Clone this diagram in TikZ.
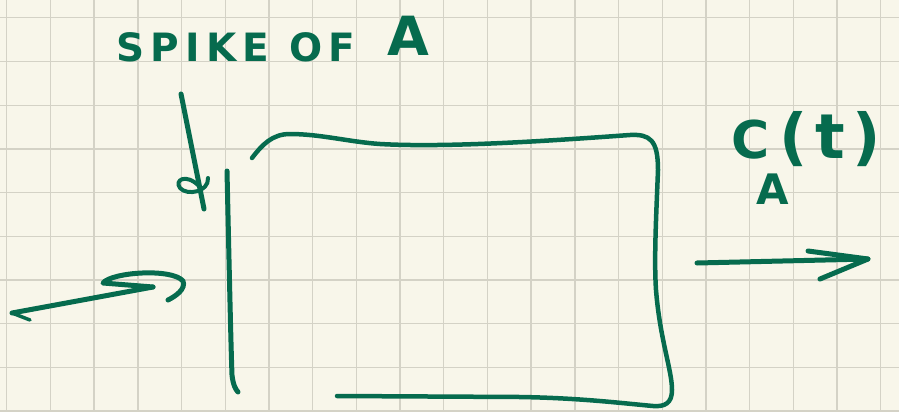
\documentclass[tikz,border=0pt]{standalone}
\usepackage{fontspec}
\setsansfont{DejaVu Sans}
\usetikzlibrary{positioning}
\definecolor{inkgreen}{RGB}{6,107,78}
\definecolor{paper}{RGB}{248,246,234}
\definecolor{gridgray}{RGB}{212,210,198}
\begin{document}
\begin{tikzpicture}[
  x=1pt, y=-1pt,
  ink/.style={draw=inkgreen, line width=5pt, line cap=round, line join=round},
  gridline/.style={draw=gridgray, line width=1.4pt},
  hand/.style={text=inkgreen, font=\sffamily\bfseries, inner sep=0pt},
  lbl/.style={hand, anchor=base west}
]
\useasboundingbox (0,0) rectangle (899,412);
\fill[paper] (0,0) rectangle (899,412);
\def\gs{43.7}
% grid paper
\foreach \gx in {0,...,20} \draw[gridline] ({6.7+\gs*\gx},0) -- ++(0,412);
\foreach \gy in {0,...,9} \draw[gridline] (0,{17.8+\gs*\gy}) -- ++(899,0);
% labels
\node[lbl] (spike) at (116,62) {\fontsize{39}{39}\selectfont\addfontfeature{LetterSpace=16}SPIKE OF\hspace{32pt}\raisebox{6pt}{\fontsize{54}{54}\selectfont A}};
\node[lbl] (conc) at (731,158) {\fontsize{52}{52}\selectfont\addfontfeature{LetterSpace=12}C\llap{\raisebox{-0.9em}{\fontsize{42}{42}\selectfont A}\hspace{-20pt}}\hspace{10pt}{\fontsize{62}{62}\selectfont(t)}};
% end points
\coordinate (in0) at (12,313);
\coordinate (in1) at (153,287);
\coordinate (sp0) at (181,94);
\coordinate (sp1) at (204,209);
\coordinate (out0) at (697,263);
\coordinate (out1) at (868,259);
% box, open on the left
\draw[ink] (227,171) .. controls (229,260) and (231,350) .. (232,375)
  .. controls (233,385) and (236,390) .. (238,392);
\draw[ink, line width=4.5pt] (252,158) .. controls (262,145) and (272,134) .. (290,134)
  .. controls (320,134) and (350,142) .. (380,144)
  .. controls (450,148) and (560,140) .. (630,135)
  .. controls (650,134) and (658,140) .. (658,170)
  .. controls (656,220) and (654,260) .. (656,290)
  .. controls (660,340) and (672,370) .. (672,390)
  .. controls (672,403) and (665,407) .. (653,406)
  .. controls (620,403) and (580,398) .. (520,397) -- (337,396);
% spike
\draw[ink] (sp0) -- (sp1);
\draw[ink, line width=4pt] (199,186) .. controls (186,173) and (174,180) .. (180,188)
  .. controls (187,196) and (209,192) .. (208,178);
% feed in
\draw[ink] (in0) -- (in1);
\draw[ink, line width=3.5pt] (in0) -- ++(18,7);
\draw[ink] (in1) -- (103,283) .. controls (112,272) and (172,268) .. (183,281)
  .. controls (186,289) and (176,296) .. (168,300);
% outflow
\draw[ink] (out0) -- (out1);
\draw[ink] (out1) ++(-60,-8) -- (out1) -- ++(-48,20);
\end{tikzpicture}
\end{document}
